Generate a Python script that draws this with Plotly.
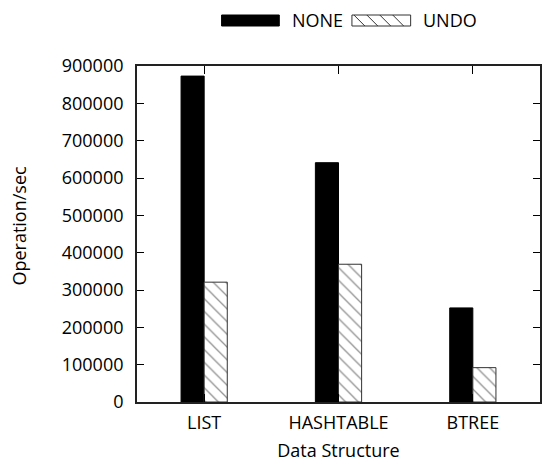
import plotly.graph_objects as go

categories = ["LIST", "HASHTABLE", "BTREE"]
none_vals = [873000, 641000, 252000]
undo_vals = [321000, 369000, 92000]
y_ticks = [0, 100000, 200000, 300000, 400000, 500000, 600000, 700000, 800000, 900000]
y_ticklabels = [str(v) for v in y_ticks]

W, H = 544, 463
L, R, T, B = 137, 2, 66, 61
PW, PH = W - L - R, H - T - B
FONT = "Open Sans"
FS = 18


def px(x):
    return (x - L) / PW


def py(y):
    return (H - B - y) / PH


bw = 0.172
fig = go.Figure()
fig.add_trace(go.Bar(
    x=categories, y=none_vals, name="NONE", width=bw, offset=-bw,
    marker=dict(color="black", line=dict(color="black", width=1)),
    showlegend=False,
))
fig.add_trace(go.Bar(
    x=categories, y=undo_vals, name="UNDO", width=bw, offset=0,
    marker=dict(color="white", line=dict(color="#333333", width=1),
                pattern=dict(shape="\\", size=9, solidity=0.14,
                             fgcolor="#222222", bgcolor="white")),
    showlegend=False,
))

# Legend drawn manually (wide swatches like the original)
shapes = []
shapes.append(dict(type="rect", xref="paper", yref="paper",
                   x0=px(222), x1=px(280), y0=py(26), y1=py(15),
                   fillcolor="black", line=dict(color="black", width=1)))
shapes.append(dict(type="rect", xref="paper", yref="paper",
                   x0=px(353), x1=px(412), y0=py(26), y1=py(15),
                   fillcolor="white", line=dict(color="#333333", width=1)))
path = ""
for sx in [355, 368, 381, 394]:
    ex = min(sx + 11, 412)
    ey = 15 + (ex - sx)
    path += f"M{px(sx)},{py(15)} L{px(ex)},{py(ey)} "
shapes.append(dict(type="path", xref="paper", yref="paper", path=path,
                   line=dict(color="#333333", width=1)))

annotations = [
    dict(text="NONE", x=px(291), y=py(20.5), xref="paper", yref="paper",
         xanchor="left", yanchor="middle", showarrow=False,
         font=dict(family=FONT, size=FS, color="black")),
    dict(text="UNDO", x=px(422), y=py(20.5), xref="paper", yref="paper",
         xanchor="left", yanchor="middle", showarrow=False,
         font=dict(family=FONT, size=FS, color="black")),
    dict(text="Operation/sec", x=px(18), y=py(226), xref="paper", yref="paper",
         xanchor="center", yanchor="middle", textangle=-90, showarrow=False,
         font=dict(family=FONT, size=FS, color="black")),
]

fig.update_layout(
    width=W, height=H,
    margin=dict(l=L, r=R, t=T, b=B, pad=0),
    paper_bgcolor="white", plot_bgcolor="white",
    font=dict(family=FONT, size=FS, color="black"),
    barmode="overlay",
    shapes=shapes, annotations=annotations,
    xaxis=dict(
        range=[-0.5, 2.5], tickvals=[0, 1, 2], ticktext=categories,
        ticks="inside", ticklen=8, tickwidth=1, tickcolor="black",
        showline=True, linecolor="#222222", linewidth=1.8, mirror="ticks",
        showgrid=False, zeroline=False, ticklabelstandoff=3,
        title=dict(text="Data Structure", standoff=12,
                   font=dict(family=FONT, size=FS)),
        tickfont=dict(family=FONT, size=FS),
    ),
    yaxis=dict(
        range=[0, 900000], tickvals=y_ticks, ticktext=y_ticklabels,
        ticks="inside", ticklen=7, tickwidth=1, tickcolor="black",
        showline=True, linecolor="#222222", linewidth=1.8, mirror="ticks",
        showgrid=False, zeroline=False, ticklabelstandoff=8,
        tickfont=dict(family=FONT, size=FS),
    ),
)

fig.write_html("out.html", config={"displayModeBar": False},
               post_script="document.body.style.margin='0px';")
